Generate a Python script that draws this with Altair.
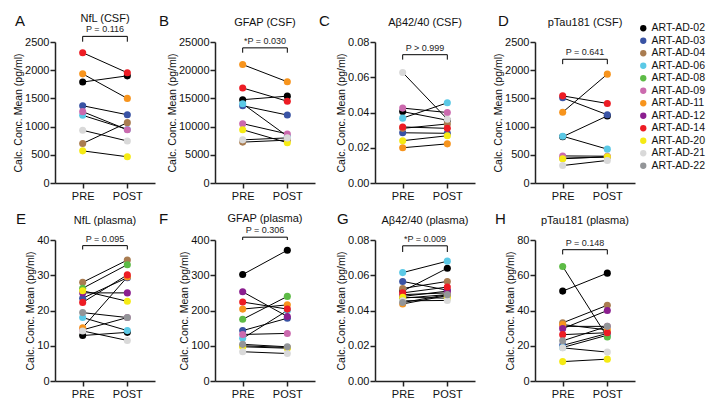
import altair as alt
import pandas as pd

subjects = ["ART-AD-02", "ART-AD-03", "ART-AD-04", "ART-AD-06", "ART-AD-08", "ART-AD-09",
            "ART-AD-11", "ART-AD-12", "ART-AD-14", "ART-AD-20", "ART-AD-21", "ART-AD-22"]
colors = ["#000000", "#3953a4", "#a97c50", "#5bc9e6", "#5dbb46", "#cb6aae",
          "#f7941d", "#8b1e8f", "#ed1c24", "#f5ea14", "#d9d9d9", "#939598"]
times = ["PRE", "POST"]

# order: 02, 03, 04, 06, 08, 09, 11, 12, 14, 20, 21, 22
nfl_csf_pre = [1790, 1370, 700, 1200, None, 1265, 1935, None, 2310, 570, 935, None]
nfl_csf_post = [1900, 1210, 1070, 950, None, 945, 1500, None, 1955, 465, 745, None]
gfap_csf_pre = [14770, 13700, 7250, 14050, None, 10520, 21000, None, 16850, 9450, 7650, None]
gfap_csf_post = [15400, 12050, 7600, 8300, None, 8700, 17950, None, 14500, 7150, 8000, None]
ab_csf_pre = [0.0405, 0.0285, 0.0310, 0.0368, None, 0.0425, 0.0200, None, 0.0318, 0.0240, 0.0627, None]
ab_csf_post = [0.0356, 0.0282, 0.0335, 0.0455, None, 0.0400, 0.0222, None, 0.0310, 0.0268, 0.0362, None]
ptau_csf_pre = [820, 1510, 440, 830, None, 480, 1255, None, 1545, 430, 310, None]
ptau_csf_post = [1190, 1210, 460, 600, None, 475, 1930, None, 1410, 465, 400, None]
nfl_pl_pre = [12.9, 23.5, 28.0, 18.0, 26.3, 14.5, 15.1, 25.0, 22.3, 25.6, 14.2, 19.4]
nfl_pl_post = [13.8, 29.3, 34.3, 14.3, 33.0, 18.0, 29.5, 25.0, 30.1, 22.6, 11.5, 18.0]
gfap_pl_pre = [302, 143, 100, 121, 175, 132, 204, 253, 224, 97, 83, 104]
gfap_pl_post = [371, 178, 95, 200, 240, 135, 216, 183, 204, 93, 78, 97]
ab_pl_pre = [0.0510, 0.0565, 0.0525, 0.0615, 0.0470, 0.0490, 0.0437, 0.0480, 0.0500, 0.0475, 0.0455, 0.0445]
ab_pl_post = [0.0640, 0.0515, 0.0565, 0.0680, 0.0490, 0.0500, 0.0485, 0.0510, 0.0533, 0.0470, 0.0457, 0.0490]
ptau_pl_pre = [51.0, 20.2, 33.0, 19.0, 65.0, 31.0, 32.0, 29.7, 26.3, 11.0, 18.8, 22.8]
ptau_pl_post = [61.2, 27.0, 43.0, 26.0, 25.0, 31.0, 29.0, 40.0, 27.4, 12.4, 16.4, 31.0]

letters = ["A", "B", "C", "D", "E", "F", "G", "H"]
titles = ["NfL (CSF)", "GFAP (CSF)", "Aβ42/40 (CSF)", "pTau181 (CSF)",
          "NfL (plasma)", "GFAP (plasma)", "Aβ42/40 (plasma)", "pTau181 (plasma)"]
pvals = ["P = 0.116", "*P = 0.030", "P > 0.999", "P = 0.641",
         "P = 0.095", "P = 0.306", "*P = 0.009", "P = 0.148"]
pre_sets = [nfl_csf_pre, gfap_csf_pre, ab_csf_pre, ptau_csf_pre,
            nfl_pl_pre, gfap_pl_pre, ab_pl_pre, ptau_pl_pre]
post_sets = [nfl_csf_post, gfap_csf_post, ab_csf_post, ptau_csf_post,
             nfl_pl_post, gfap_pl_post, ab_pl_post, ptau_pl_post]
y_max = [2500, 25000, 0.08, 2500, 40, 400, 0.08, 80]
y_step = [500, 5000, 0.02, 500, 10, 100, 0.02, 20]
y_fmt = ["d", "d", ".2f", "d", "d", "d", ".2f", "d"]
bracket_top = [2600, 23960, 0.0728, 2194, 38.4, 408, 0.0767, 74.5]
bracket_low = [2505, 23100, 0.0700, 2107, 37.3, 400, 0.0732, 71.8]
letter_dx = [-40, -56, -56, -37, -39, -56, -38, -40]
title_dy = [-23, -19, -19, -19, -19, -21, -19, -19]

W, H = 100, 141
FONT = "Liberation Sans"


def make_panel(i):
    rows = []
    for s, a, b in zip(subjects, pre_sets[i], post_sets[i]):
        if a is None or b is None:
            continue
        rows.append({"subject": s, "time": "PRE", "value": a})
        rows.append({"subject": s, "time": "POST", "value": b})
    df = pd.DataFrame(rows)
    n = int(round(y_max[i] / y_step[i]))
    ticks = [round(k * y_step[i], 4) for k in range(n + 1)]
    xscale = alt.Scale(type="point", domain=times, padding=0.62)
    xaxis = alt.Axis(title=None, labelAngle=0, labelFontSize=11, labelPadding=2)
    yscale = alt.Scale(domain=[0, y_max[i]], nice=False, zero=True)
    yaxis = alt.Axis(values=ticks, format=y_fmt[i], title="Calc. Conc. Mean (pg/ml)",
                     labelFontSize=11, titleFontSize=10.5, titlePadding=1,
                     labelPadding=1, labelOverlap=False)
    x = alt.X("time:N", sort=times, scale=xscale, axis=xaxis)
    y = alt.Y("value:Q", scale=yscale, axis=yaxis)

    def xd(v):
        return alt.X(datum=v, scale=xscale, axis=xaxis)

    def yd(v):
        return alt.Y(datum=v, scale=yscale, axis=yaxis)

    base = alt.Chart(df)
    lines = base.mark_line(color="black", strokeWidth=1).encode(x=x, y=y, detail="subject:N")
    pts = base.mark_circle(size=50, opacity=1).encode(
        x=x, y=y,
        color=alt.Color("subject:N", scale=alt.Scale(domain=subjects, range=colors),
                        legend=alt.Legend(title=None, orient="none", legendX=583, legendY=-19)))
    one = pd.DataFrame({"k": [0]})
    hbar = alt.Chart(one).mark_rule(color="black", strokeWidth=1).encode(
        x=xd("PRE"), x2=alt.X2(datum="POST"), y=yd(bracket_top[i]))
    t1 = alt.Chart(one).mark_rule(color="black", strokeWidth=1).encode(
        x=xd("PRE"), y=yd(bracket_low[i]), y2=alt.Y2(datum=bracket_top[i]))
    t2 = alt.Chart(one).mark_rule(color="black", strokeWidth=1).encode(
        x=xd("POST"), y=yd(bracket_low[i]), y2=alt.Y2(datum=bracket_top[i]))
    ptxt = alt.Chart(one).mark_text(text=pvals[i], fontSize=9, baseline="bottom", dy=-2,
                                    font=FONT, color="#222").encode(
        x=alt.value(W / 2), y=yd(bracket_top[i]))
    let = alt.Chart(one).mark_text(text=letters[i], fontSize=15, align="left",
                                   baseline="middle", font=FONT, color="#111").encode(
        x=alt.value(letter_dx[i]), y=alt.value(-21))
    ttl = alt.Chart(one).mark_text(text=titles[i], fontSize=11, align="center",
                                   baseline="middle", font=FONT, color="#111").encode(
        x=alt.value(W / 2), y=alt.value(title_dy[i]))
    return alt.layer(lines, pts, hbar, t1, t2, ptxt, let, ttl).properties(width=W, height=H)


chart = alt.concat(*[make_panel(i) for i in range(8)], columns=4, bounds="flush",
                   spacing={"row": 57, "column": 60}).configure(
    font=FONT
).configure_view(stroke=None).configure_axis(
    domainColor="#222", domainWidth=1.5, tickColor="#222", tickWidth=1.5, tickSize=5,
    grid=False, labelColor="#111", titleColor="#111", titleFontWeight="normal", labelFont=FONT,
    titleFont=FONT
).configure_legend(
    symbolType="circle", symbolSize=40, labelFontSize=10.5, rowPadding=1.5,
    labelFont=FONT, labelColor="#111", padding=0, labelOffset=3
)

chart.save("out.html", embed_options={"renderer": "svg", "actions": False})
